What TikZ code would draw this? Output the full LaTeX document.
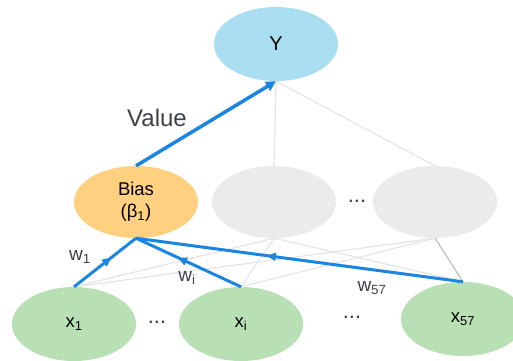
\documentclass[tikz,border=0pt]{standalone}
\usepackage{fontspec}
\setmainfont{Liberation Sans}
\usetikzlibrary{shapes.geometric,arrows.meta,decorations.markings}
\definecolor{outblue}{HTML}{A9DEF0}
\definecolor{biasorange}{HTML}{FFD080}
\definecolor{hidgray}{HTML}{EBEBEB}
\definecolor{ingreen}{HTML}{B8E0B4}
\definecolor{wblue}{HTML}{1A86E2}
\definecolor{linkgray}{HTML}{E4E4E4}
\definecolor{txtgray}{HTML}{3C4048}
\tikzset{
  unit/.style={ellipse, draw=none, minimum width=124pt, minimum height=74pt,
    inner sep=0pt, font=\fontsize{18.5}{22}\selectfont, text=black, align=center},
  faint/.style={draw=linkgray, line width=1.2pt},
  weight/.style={draw=wblue, line width=3pt,
    postaction={decorate, decoration={markings,
      mark=at position 0.6 with {\arrow{Triangle[length=9pt,width=8pt]}}}}},
  wlabel/.style={font=\fontsize{19}{22}\selectfont, text=txtgray},
  dots/.style={font=\fontsize{22}{24}\selectfont, text=txtgray},
}
\begin{document}
\begin{tikzpicture}[x=1pt,y=-1pt]
\useasboundingbox (0,0) rectangle (513,360);

% output, hidden and input units
\node[unit, fill=outblue, font=\fontsize{20}{22}\selectfont] (Y) at (276,44) {Y};
\node[unit, fill=biasorange, minimum height=72pt] (bias) at (136,202) {Bias\\(β\textsubscript{1})};
\node[unit, fill=hidgray, minimum height=72pt] (h2) at (274,202) {};
\node[unit, fill=hidgray, minimum height=72pt] (h3) at (435,202) {};
\node[unit, fill=ingreen] (x1) at (74,324) {x\textsubscript{1}};
\node[unit, fill=ingreen] (xi) at (241,324) {x\textsubscript{i}};
\node[unit, fill=ingreen] (x57) at (463,319) {x\textsubscript{57}};

% ellipsis markers
\node[dots] (d1) at (357,201) {...};
\node[dots] (d2) at (157,322) {...};
\node[dots] (d3) at (352,317) {...};

% faint links to the inactive hidden units
\draw[faint] (Y.south) -- (h2.north);
\draw[faint] (Y.south) -- (h3.north);
\draw[faint] (x1.north) -- (h2.south);
\draw[faint] (x1.north) -- (h3.south);
\draw[faint] (xi.north) -- (h2.south);
\draw[faint] (xi.north) -- (h3.south);
\draw[faint] (x57.north) -- (h2.south);
\draw[faint, draw=black!25] (x57.north) -- (h3.south);

% weighted inputs into the bias unit
\draw[weight] (x1.north) -- (bias.south);
\draw[weight] (xi.north) -- (bias.south);
\draw[weight] (x57.north) -- (bias.south);

% bias value to the output
\draw[draw=wblue, line width=3.5pt, -{Triangle[length=10pt,width=10pt]}] (bias.north) -- (Y.south);

% labels
\node[font=\fontsize{24}{28}\selectfont, text=txtgray] (val) at (157,118) {Value};
\node[wlabel] (lw1) at (80,257) {w\textsubscript{1}};
\node[wlabel] (lwi) at (187,278) {w\textsubscript{i}};
\node[wlabel] (lw57) at (372,288) {w\textsubscript{57}};
\end{tikzpicture}
\end{document}
